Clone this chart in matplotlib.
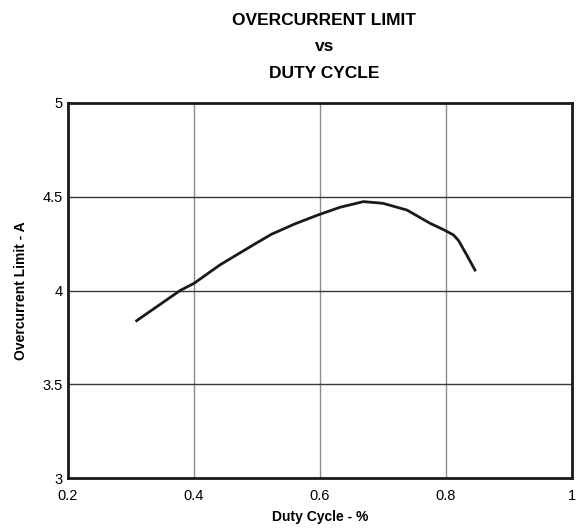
import matplotlib
matplotlib.use("Agg")
import matplotlib.pyplot as plt

plt.rcParams['font.family'] = ['Liberation Sans', 'DejaVu Sans']

duty = [0.309, 0.378, 0.40, 0.441, 0.494, 0.523, 0.560, 0.597, 0.632, 0.669, 0.70, 0.738, 0.775, 0.797, 0.812, 0.820, 0.832, 0.846]
ilim = [3.839, 4.00, 4.038, 4.136, 4.243, 4.300, 4.355, 4.403, 4.444, 4.474, 4.465, 4.429, 4.358, 4.323, 4.296, 4.266, 4.195, 4.109]

xticks = [0.2, 0.4, 0.6, 0.8, 1.0]
xticklabels = ['0.2', '0.4', '0.6', '0.8', '1']
yticks = [3, 3.5, 4, 4.5, 5]
yticklabels = ['3', '3.5', '4', '4.5', '5']

fig = plt.figure(figsize=(5.82, 5.29), dpi=100)
ax = fig.add_axes([0.1168, 0.0964, 0.8660, 0.7089])
ax.plot(duty, ilim, color='#1a1a1a', lw=2.0, zorder=3)
ax.set_xlim(0.2, 1.0)
ax.set_ylim(3, 5)
ax.set_xticks(xticks)
ax.set_xticklabels(xticklabels, fontsize=10.5)
ax.set_yticks(yticks)
ax.set_yticklabels(yticklabels, fontsize=10.5)
ax.tick_params(axis='x', length=0, pad=8)
ax.tick_params(axis='y', length=0, pad=4)
for x in xticks[1:-1]:
    ax.axvline(x, color='#8c8c8c', lw=1.0, zorder=1)
for y in yticks[1:-1]:
    ax.axhline(y, color='#3a3a3a', lw=1.0, zorder=1)
for s in ax.spines.values():
    s.set_linewidth(2.0)
    s.set_color('#1a1a1a')
ax.set_xlabel('Duty Cycle - %', fontsize=10, fontweight='bold', labelpad=5)
ax.set_ylabel('Overcurrent Limit - A', fontsize=10, fontweight='bold', labelpad=10)
fig.text(0.5574, 0.962, 'OVERCURRENT LIMIT', ha='center', va='center', fontsize=12.5, fontweight='bold')
fig.text(0.5574, 0.913, 'vs', ha='center', va='center', fontsize=12.5, fontweight='bold')
fig.text(0.5574, 0.862, 'DUTY CYCLE', ha='center', va='center', fontsize=12.5, fontweight='bold')
fig.savefig('out.png', dpi=100)
